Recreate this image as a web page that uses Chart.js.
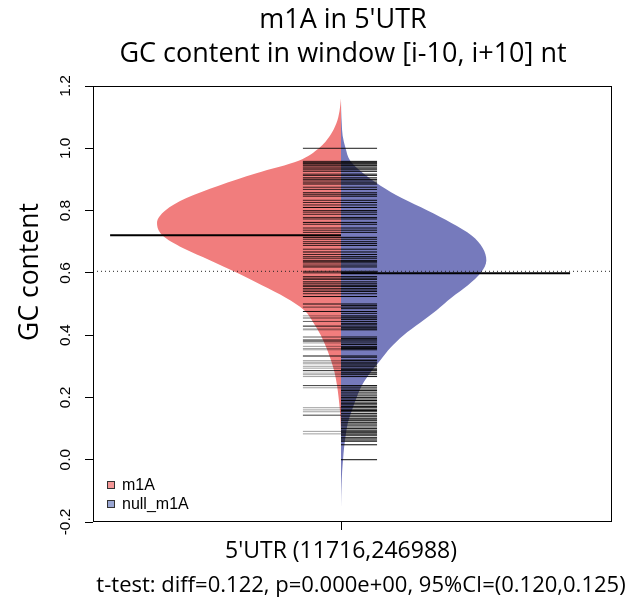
<!DOCTYPE html>
<html>
<head>
<meta charset="utf-8">
<script src="https://cdn.jsdelivr.net/npm/chart.js@4.4.1/dist/chart.umd.min.js"></script>
<style>
  html, body { margin: 0; padding: 0; background: #fff; }
</style>
</head>
<body>
<canvas id="bean" width="626" height="603"></canvas>
<script>
// ---- data ----
const titleLines = ["m1A in 5'UTR", "GC content in window [i-10, i+10] nt"];
const yAxisLabel = "GC content";
const groupLabel = "5'UTR (11716,246988)";
const testLabel = "t-test: diff=0.122, p=0.000e+00, 95%CI=(0.120,0.125)";
const seriesNames = ["m1A", "null_m1A"];

const yTicks = [-0.2, 0.0, 0.2, 0.4, 0.6, 0.8, 1.0, 1.2];
const yTickLabels = ["-0.2", "0.0", "0.2", "0.4", "0.6", "0.8", "1.0", "1.2"];

// density grid (GC content) and half-widths of each bean
const densGrid = [1.16, 1.12, 1.08, 1.04, 1.00, 0.96, 0.92, 0.88, 0.84, 0.80, 0.76, 0.72, 0.68, 0.64,
  0.60, 0.56, 0.52, 0.48, 0.44, 0.40, 0.36, 0.32, 0.28, 0.24, 0.20, 0.16, 0.12, 0.08, 0.04, 0.00,
  -0.04, -0.08, -0.12, -0.16];
const m1aDensity = [0, 0.008, 0.025, 0.06, 0.12, 0.23, 0.46, 0.665, 0.84, 0.955, 1.0, 0.97, 0.86, 0.71,
  0.565, 0.43, 0.30, 0.20, 0.15, 0.11, 0.08, 0.055, 0.035, 0.022, 0.013, 0.006, 0.002, 0, 0, 0,
  0, 0, 0, 0];
const nullDensity = [0, 0.001, 0.004, 0.009, 0.025, 0.05, 0.12, 0.215, 0.33, 0.47, 0.6, 0.71, 0.77, 0.79,
  0.76, 0.69, 0.60, 0.52, 0.43, 0.34, 0.27, 0.215, 0.16, 0.115, 0.085, 0.06, 0.038, 0.026, 0.017, 0.011,
  0.006, 0.003, 0.001, 0];

const m1aMean = 0.721;
const nullMean = 0.599;
const overallMean = 0.605;

// bean lines: observed values and how many observations stack on each
const m1aLineValues = [1.0,
  0.958, 0.955, 0.952, 0.949, 0.945, 0.94, 0.936, 0.931, 0.926, 0.917, 0.913,
  0.905, 0.9, 0.895, 0.889, 0.885, 0.875, 0.868, 0.857, 0.851, 0.846,
  0.833, 0.826, 0.818, 0.81, 0.8, 0.795, 0.788, 0.778, 0.773, 0.762, 0.756,
  0.744, 0.737, 0.73, 0.714, 0.708, 0.7, 0.694, 0.688, 0.676, 0.667,
  0.659, 0.652, 0.647, 0.64, 0.636, 0.632, 0.625, 0.619, 0.605, 0.6,
  0.588, 0.583, 0.579, 0.571, 0.565, 0.56, 0.556, 0.55, 0.545, 0.54, 0.533, 0.524,
  0.5, 0.49, 0.476, 0.462, 0.455, 0.444, 0.429, 0.42, 0.417,
  0.394, 0.385, 0.381, 0.375, 0.364, 0.357, 0.353,
  0.333, 0.318, 0.313, 0.308, 0.3, 0.294, 0.286, 0.278, 0.273, 0.267,
  0.238, 0.231, 0.167, 0.16, 0.154, 0.143, 0.091, 0.083];
const m1aLineCounts = [4,
  3, 3, 7, 3, 3, 3, 3, 3, 3, 3, 4,
  7, 3, 3, 3, 3, 3, 3, 7, 3, 3,
  3, 3, 3, 7, 3, 3, 3, 3, 3, 7, 3,
  3, 3, 3, 7, 3, 3, 3, 3, 3, 7,
  3, 3, 3, 3, 3, 3, 3, 7, 3, 4,
  3, 3, 3, 7, 3, 3, 3, 3, 3, 3, 3, 5,
  5, 2, 5, 1, 2, 2, 5, 1, 1,
  2, 2, 5, 1, 1, 1, 1,
  5, 1, 1, 1, 1, 1, 4, 1, 1, 1,
  3, 1, 1, 1, 1, 3, 1, 1];

const nullLineValues = [1.0,
  0.958, 0.955, 0.952, 0.949, 0.945, 0.94, 0.936, 0.931, 0.926, 0.917, 0.913,
  0.905, 0.9, 0.895, 0.889, 0.885, 0.875, 0.868, 0.857, 0.851, 0.846,
  0.833, 0.826, 0.818, 0.81, 0.8, 0.795, 0.788, 0.778, 0.773, 0.762, 0.756,
  0.744, 0.737, 0.73, 0.714, 0.708, 0.7, 0.694, 0.688, 0.676, 0.667,
  0.659, 0.652, 0.647, 0.64, 0.636, 0.632, 0.625, 0.619, 0.605, 0.6,
  0.588, 0.583, 0.579, 0.571, 0.565, 0.56, 0.556, 0.55, 0.545, 0.54, 0.533, 0.524,
  0.5, 0.495, 0.49, 0.485, 0.476, 0.47, 0.462, 0.458, 0.455, 0.45, 0.444, 0.438, 0.435,
  0.429, 0.424, 0.42, 0.417, 0.394, 0.389, 0.385, 0.381, 0.375, 0.37, 0.364, 0.36, 0.357, 0.353,
  0.333, 0.329, 0.32, 0.318, 0.313, 0.308, 0.304, 0.3, 0.294, 0.29, 0.286, 0.281, 0.278, 0.273, 0.267,
  0.238, 0.233, 0.227, 0.222, 0.217, 0.211, 0.205, 0.2, 0.195, 0.19, 0.185, 0.18, 0.176, 0.171,
  0.167, 0.162, 0.158, 0.154, 0.148, 0.143, 0.138, 0.133, 0.128, 0.125, 0.12, 0.115, 0.111,
  0.105, 0.1, 0.095, 0.091, 0.087, 0.083, 0.08, 0.077, 0.071, 0.067, 0.063, 0.059, 0.048, 0.0];
const nullLineCounts = [5,
  6, 6, 10, 6, 6, 6, 6, 6, 6, 6, 6,
  10, 6, 6, 6, 6, 6, 6, 10, 6, 6,
  6, 6, 6, 10, 6, 6, 6, 6, 6, 10, 6,
  6, 6, 6, 10, 6, 6, 6, 6, 6, 10,
  6, 6, 6, 6, 6, 6, 6, 10, 6, 6,
  6, 6, 6, 10, 6, 6, 6, 6, 6, 6, 6, 10,
  8, 5, 6, 5, 10, 5, 6, 5, 6, 5, 6, 5, 5,
  10, 5, 6, 6, 6, 5, 6, 10, 6, 5, 6, 5, 6, 6,
  10, 5, 5, 6, 6, 6, 5, 6, 6, 5, 10, 5, 6, 6, 6,
  10, 6, 6, 6, 6, 6, 6, 6, 6, 10, 6, 6, 6, 6,
  6, 6, 6, 6, 6, 10, 6, 6, 6, 6, 6, 4, 6,
  4, 5, 10, 4, 4, 4, 3, 3, 4, 4, 4, 4, 8, 8];

// ---- layout in bean-width units (0 = bean centre) ----
const X_MIN = -1.348, X_MAX = 1.473;
const LEFT_LINE = -0.207, RIGHT_LINE = 0.196;
const MEAN_LEFT = -1.255, MEAN_RIGHT = 1.245;

const redFill = 'rgb(241,125,125)';
const blueFill = 'rgb(118,122,188)';
const legendFill = ['rgb(244,150,150)', 'rgb(154,166,210)'];
const font = '"Open Sans", "Noto Sans", sans-serif';

function lineAlpha(n) {
  return 1 - Math.pow(0.62, n);
}

const datasets = [];

datasets.push({
  data: densGrid.map((v, i) => ({ x: -m1aDensity[i], y: v })),
  backgroundColor: redFill, borderWidth: 0, fill: 'origin',
  cubicInterpolationMode: 'monotone', order: 20
});
datasets.push({
  data: densGrid.map((v, i) => ({ x: nullDensity[i], y: v })),
  backgroundColor: blueFill, borderWidth: 0, fill: 'origin',
  cubicInterpolationMode: 'monotone', order: 20
});

m1aLineValues.forEach((v, i) => {
  datasets.push({
    data: [{ x: LEFT_LINE, y: v }, { x: 0, y: v }],
    borderColor: 'rgba(0,0,0,' + lineAlpha(m1aLineCounts[i]).toFixed(3) + ')',
    borderWidth: 1, fill: false, order: 10
  });
});
nullLineValues.forEach((v, i) => {
  datasets.push({
    data: [{ x: 0, y: v }, { x: RIGHT_LINE, y: v }],
    borderColor: 'rgba(0,0,0,' + lineAlpha(nullLineCounts[i]).toFixed(3) + ')',
    borderWidth: 1, fill: false, order: 10
  });
});

datasets.push({
  data: [{ x: X_MIN, y: overallMean }, { x: X_MAX, y: overallMean }],
  borderColor: '#222', borderWidth: 1, borderDash: [1, 3], fill: false, order: 3
});
datasets.push({
  data: [{ x: MEAN_LEFT, y: m1aMean }, { x: 0, y: m1aMean }],
  borderColor: '#000', borderWidth: 2, fill: false, order: 1
});
datasets.push({
  data: [{ x: 0, y: nullMean }, { x: MEAN_RIGHT, y: nullMean }],
  borderColor: '#000', borderWidth: 2, fill: false, order: 1
});

// box, titles, rotated y tick labels and the legend
const decorations = {
  id: 'decorations',
  afterDraw(chart) {
    const { ctx, chartArea: a } = chart;
    const y = chart.scales.y;
    ctx.save();
    ctx.strokeStyle = '#000';
    ctx.lineWidth = 1;
    ctx.strokeRect(a.left + 0.5, a.top + 0.5, a.right - a.left - 1, a.bottom - a.top - 1);

    ctx.fillStyle = '#000';
    ctx.textAlign = 'center';
    ctx.textBaseline = 'middle';

    ctx.font = '27px ' + font;
    ctx.fillText(titleLines[0], 343, 20);
    ctx.fillText(titleLines[1], 343, 54);

    ctx.font = '22px ' + font;
    ctx.fillText(testLabel, 361, 586);

    ctx.save();
    ctx.font = '26.5px ' + font;
    ctx.translate(30, 272);
    ctx.rotate(-Math.PI / 2);
    ctx.fillText(yAxisLabel, 0, 0);
    ctx.restore();

    ctx.font = '15.5px "Liberation Sans", Arial, sans-serif';
    yTicks.forEach((v, i) => {
      ctx.save();
      ctx.translate(a.left - 27, y.getPixelForValue(v));
      ctx.rotate(-Math.PI / 2);
      ctx.fillText(yTickLabels[i], 0, 0);
      ctx.restore();
    });

    ctx.font = '16px "Liberation Sans", Arial, sans-serif';
    ctx.textAlign = 'left';
    seriesNames.forEach((name, i) => {
      const top = a.bottom - 41 + i * 19;
      ctx.fillStyle = legendFill[i];
      ctx.fillRect(a.left + 14, top, 8, 8);
      ctx.strokeStyle = '#333';
      ctx.strokeRect(a.left + 14.5, top + 0.5, 7, 7);
      ctx.fillStyle = '#000';
      ctx.fillText(name, a.left + 29, top + 4.5);
    });
    ctx.restore();
  }
};

new Chart(document.getElementById('bean'), {
  type: 'line',
  data: { datasets },
  options: {
    responsive: false,
    animation: false,
    devicePixelRatio: 1,
    indexAxis: 'y',
    events: [],
    elements: { point: { radius: 0 }, line: { borderCapStyle: 'butt' } },
    layout: { padding: { left: 0, right: 14, top: 86, bottom: 0 } },
    plugins: {
      legend: { display: false },
      tooltip: { enabled: false },
      title: { display: false }
    },
    scales: {
      x: {
        type: 'linear',
        min: X_MIN,
        max: X_MAX,
        afterBuildTicks(scale) { scale.ticks = [{ value: 0 }]; },
        afterFit(scale) { scale.height = 81; },
        ticks: {
          callback: () => groupLabel,
          color: '#000',
          maxRotation: 0,
          font: { family: font, size: 23 },
          padding: 8
        },
        grid: { drawOnChartArea: false, drawTicks: true, tickLength: 8, color: '#000' },
        border: { display: false }
      },
      y: {
        type: 'linear',
        min: -0.2,
        max: 1.2,
        afterBuildTicks(scale) { scale.ticks = yTicks.map(v => ({ value: v })); },
        afterFit(scale) { scale.width = 93; },
        ticks: { display: false },
        grid: { drawOnChartArea: false, drawTicks: true, tickLength: 8, color: '#000' },
        border: { display: false }
      }
    }
  },
  plugins: [decorations]
});
</script>
</body>
</html>
